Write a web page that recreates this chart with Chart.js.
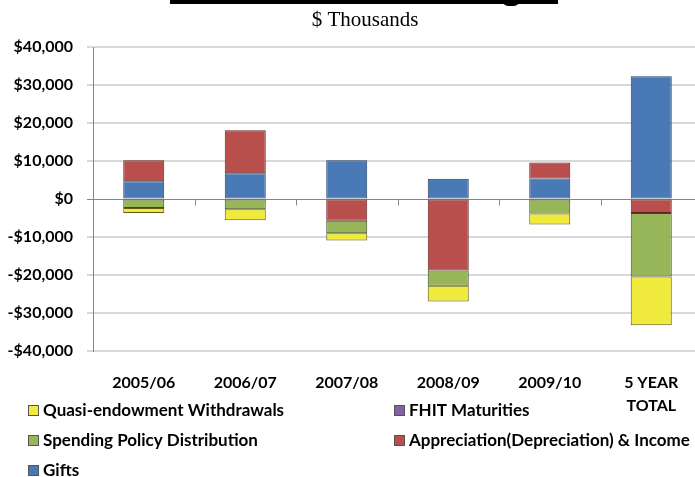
<!DOCTYPE html>
<html>
<head>
<meta charset="utf-8">
<script src="https://cdn.jsdelivr.net/npm/chart.js@4/dist/chart.umd.min.js"></script>
<style>
  html, body { margin: 0; padding: 0; background: #fff; overflow: hidden; }
  #wrap { position: relative; width: 710px; height: 477px; }
</style>
</head>
<body>
<div id="wrap"><canvas id="chart"></canvas></div>
<script>
// Endowment changes by fiscal year, $ thousands
const categories = ["2005/06", "2006/07", "2007/08", "2008/09", "2009/10", ["5 YEAR", "TOTAL"]];
const gifts = [4700, 6800, 10200, 5300, 5400, 32300];
const appreciation = [5500, 11300, -5700, -18800, 4200, -3700];
const fhitMaturities = [0, 0, 0, 0, 0, 0];
const spending = [-2400, -2700, -3300, -4000, -3800, -16700];
const quasiWithdrawals = [-1300, -2900, -1900, -4200, -2900, -12800];

const legendRows = [
    [{ text: "Quasi-endowment Withdrawals", ds: 4 }, { text: "FHIT Maturities", ds: 2 }],
    [{ text: "Spending Policy Distribution", ds: 3 }, { text: "Appreciation(Depreciation) & Income", ds: 1 }],
    [{ text: "Gifts", ds: 0 }]
];

const FONT = "Lato, 'Liberation Sans', sans-serif";

function money(v) {
    const s = "$" + Math.abs(v).toLocaleString("en-US");
    return v < 0 ? "-" + s : s;
}

// header strip, subtitle, zero-line ticks and the two-column legend
const decorations = {
    id: "decorations",
    afterDraw(chart) {
        const ctx = chart.ctx;
        const x = chart.scales.x, y = chart.scales.y;
        ctx.save();

        ctx.fillStyle = "#000";
        ctx.fillRect(170, 0, 388, 4);
        ctx.beginPath();
        ctx.ellipse(511, 4, 7, 2, 0, 0, Math.PI);
        ctx.fill();

        ctx.font = "21px 'Liberation Serif', 'Times New Roman', serif";
        ctx.textAlign = "center";
        ctx.textBaseline = "middle";
        ctx.fillText("$ Thousands", 365, 20);

        // category tick marks hanging from the zero line
        const zy = Math.round(y.getPixelForValue(0)) + 0.5;
        const step = x.getPixelForValue(1) - x.getPixelForValue(0);
        ctx.strokeStyle = "#868686";
        ctx.lineWidth = 1;
        for (let i = 1; i < categories.length; i++) {
            const tx = Math.round(x.getPixelForValue(i) - step / 2) + 0.5;
            ctx.beginPath();
            ctx.moveTo(tx, zy);
            ctx.lineTo(tx, zy + 6);
            ctx.stroke();
        }

        ctx.font = "bold 17px " + FONT;
        ctx.textAlign = "left";
        const colX = [28, 394];
        const rowY = [410, 440, 470];
        legendRows.forEach((row, r) => {
            row.forEach((item, c) => {
                const ds = chart.data.datasets[item.ds];
                const sx = colX[c], sy = rowY[r] - 5;
                ctx.fillStyle = ds.backgroundColor;
                ctx.fillRect(sx, sy, 10, 10);
                ctx.strokeStyle = "#555";
                ctx.strokeRect(sx + 0.5, sy + 0.5, 10, 10);
                ctx.fillStyle = "#000";
                ctx.fillText(item.text, sx + 15, rowY[r] + 1);
            });
        });
        ctx.restore();
    }
};

new Chart(document.getElementById("chart"), {
    type: "bar",
    data: {
        labels: categories,
        datasets: [
            { label: "Gifts", data: gifts, backgroundColor: "#4a7ab5", borderColor: "#243d5e" },
            { label: "Appreciation(Depreciation) & Income", data: appreciation, backgroundColor: "#b94f4c", borderColor: "#5e2422" },
            { label: "FHIT Maturities", data: fhitMaturities, backgroundColor: "#8064a2", borderColor: "#8064a2", borderWidth: 0 },
            { label: "Spending Policy Distribution", data: spending, backgroundColor: "#97b65a", borderColor: "#3d4a22" },
            { label: "Quasi-endowment Withdrawals", data: quasiWithdrawals, backgroundColor: "#f0ea3c", borderColor: "#5e5a18" }
        ]
    },
    options: {
        responsive: true,
        maintainAspectRatio: false,
        animation: false,
        layout: { padding: { top: 47, right: 8, left: 0, bottom: 0 } },
        datasets: { bar: { borderWidth: 1, borderSkipped: false, categoryPercentage: 1, barPercentage: 0.404 } },
        plugins: {
            legend: { display: false },
            tooltip: { enabled: false }
        },
        scales: {
            x: {
                stacked: true,
                grid: { display: false },
                border: { display: false },
                ticks: {
                    color: "#000",
                    padding: 12,
                    maxRotation: 0,
                    font: { family: FONT, size: 16, weight: "bold", lineHeight: 1.45 }
                },
                afterFit(s) { s.height = 126; }
            },
            y: {
                stacked: true,
                min: -40000,
                max: 40000,
                grid: {
                    color: ctx => ctx.tick && ctx.tick.value === 0 ? "#868686" : "#d9d9d9",
                    lineWidth: ctx => ctx.tick && ctx.tick.value === 0 ? 1 : 2,
                    tickLength: 6
                },
                border: { color: "#868686", width: 1 },
                ticks: {
                    stepSize: 10000,
                    color: "#000",
                    padding: 14,
                    font: { family: FONT, size: 16, weight: "bold" },
                    callback: v => money(v)
                },
                afterFit(s) { s.width = 93; }
            }
        }
    },
    plugins: [decorations]
});
</script>
</body>
</html>
